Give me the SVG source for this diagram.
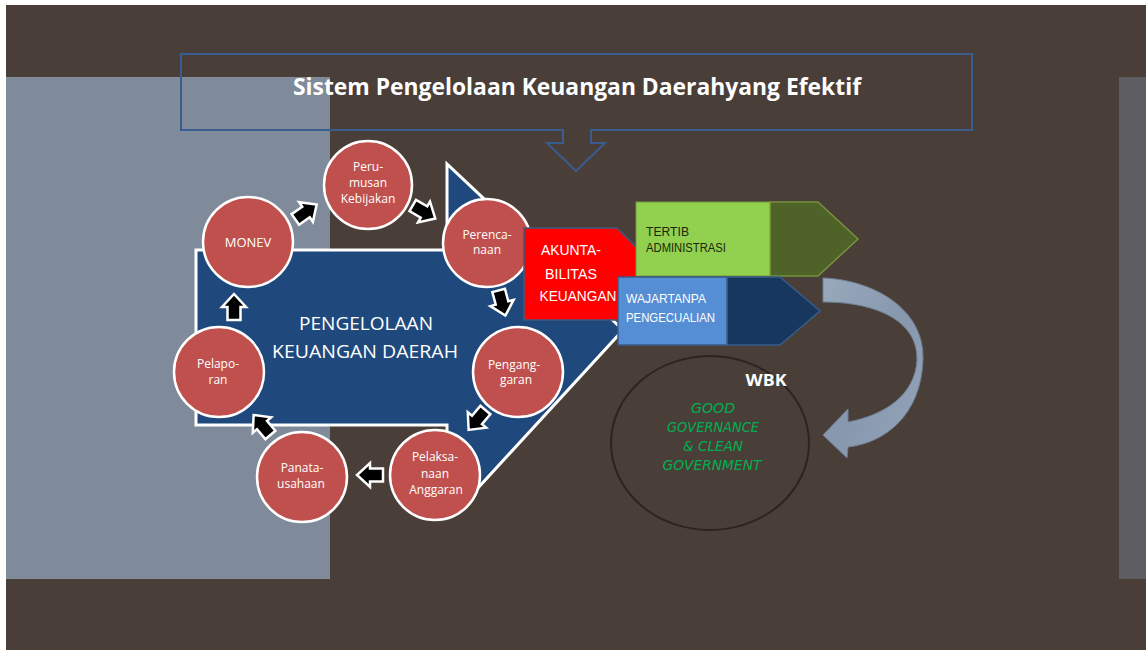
<svg xmlns="http://www.w3.org/2000/svg" width="1146" height="650" viewBox="0 0 1146 650">
  <style>
    .step circle { fill: #c0504d; stroke: #ffffff; stroke-width: 2.5; }
    .step text { fill: #ffffff; font-family: "Open Sans", "Liberation Sans", sans-serif; font-size: 12px; text-anchor: middle; }
    .flow use { fill: #000000; stroke: #ffffff; stroke-width: 2.5; stroke-linejoin: miter; }
    .big { fill: #ffffff; font-family: "Open Sans", "Liberation Sans", sans-serif; font-size: 19px; text-anchor: middle; }
    .tag { font-family: "Liberation Sans", "Open Sans", sans-serif; font-size: 13px; }
    .gg { fill: #00b050; font-family: "DejaVu Sans", "Liberation Sans", sans-serif; font-style: italic; font-size: 13.5px; text-anchor: middle; }
  </style>
  <defs>
    <!-- block arrow pointing right, centred on the origin -->
    <path id="blk" d="M-13,-6.5 H0 V-12 L13,0 L0,12 V6.5 H-13 Z"/>
    <linearGradient id="curveFill" x1="0" y1="0" x2="1" y2="1">
      <stop offset="0" stop-color="#9aaabd"/>
      <stop offset="0.5" stop-color="#8797ad"/>
      <stop offset="1" stop-color="#95a6bb"/>
    </linearGradient>
  </defs>

  <!-- backdrop -->
  <rect x="0" y="0" width="1146" height="650" fill="#ffffff"/>
  <rect x="6" y="5" width="1140" height="645" fill="#4a3e39"/>
  <rect x="6" y="77" width="324" height="502" fill="#7f8a9a"/>
  <rect x="1119" y="77" width="27" height="502" fill="#5e5e62"/>

  <!-- heading callout -->
  <g id="title">
    <path d="M181,54 H972 V130 H591 V143 H605 L576,171 L547,143 H563 V130 H181 Z" fill="none" stroke="#3a5d8f" stroke-width="2"/>
    <text x="577" y="95" fill="#ffffff" font-family="Open Sans, Liberation Sans, sans-serif" font-weight="bold" font-size="24" text-anchor="middle" textLength="568" lengthAdjust="spacingAndGlyphs">Sistem Pengelolaan Keuangan Daerahyang Efektif</text>
  </g>

  <!-- central pentagon arrow -->
  <g id="pengelolaan">
    <path d="M196,250 H447 V164 L623,330 L455,513 L447,500 V425 H196 Z" fill="#1f497d" stroke="#ffffff" stroke-width="3" stroke-linejoin="miter"/>
    <text class="big" x="366" y="330" textLength="134" lengthAdjust="spacingAndGlyphs">PENGELOLAAN</text>
    <text class="big" x="365" y="358" textLength="186" lengthAdjust="spacingAndGlyphs">KEUANGAN DAERAH</text>
  </g>

  <!-- cycle arrows between steps -->
  <g id="connectors" class="flow">
    <use href="#blk" transform="translate(306,212) rotate(-35)"/>
    <use href="#blk" transform="translate(424,212) rotate(30)"/>
    <use href="#blk" transform="translate(502,303) rotate(75)"/>
    <use href="#blk" transform="translate(477,420) rotate(130)"/>
    <use href="#blk" transform="translate(370,475) rotate(180)"/>
    <use href="#blk" transform="translate(262,425) rotate(230)"/>
    <use href="#blk" transform="translate(234,307) rotate(-90)"/>
  </g>

  <!-- cycle steps -->
  <g id="perumusan" class="step">
    <circle cx="368" cy="185" r="44"/>
    <text x="368" y="171">Peru-</text>
    <text x="368" y="187">musan</text>
    <text x="368" y="203">Kebijakan</text>
  </g>
  <g id="monev" class="step">
    <circle cx="248" cy="242" r="45"/>
    <text x="248" y="247" style="font-size:13px">MONEV</text>
  </g>
  <g id="perencanaan" class="step">
    <circle cx="487" cy="243" r="44"/>
    <text x="487" y="239">Perenca-</text>
    <text x="487" y="254">naan</text>
  </g>
  <g id="penganggaran" class="step">
    <circle cx="518" cy="372" r="45"/>
    <text x="514" y="369">Pengang-</text>
    <text x="516" y="384">garan</text>
  </g>
  <g id="pelaksanaan" class="step">
    <circle cx="435" cy="475" r="45"/>
    <text x="435" y="461">Pelaksa-</text>
    <text x="435" y="478">naan</text>
    <text x="436" y="494">Anggaran</text>
  </g>
  <g id="panatausahaan" class="step">
    <circle cx="302" cy="477" r="45"/>
    <text x="302" y="472">Panata-</text>
    <text x="301" y="488">usahaan</text>
  </g>
  <g id="pelaporan" class="step">
    <circle cx="219" cy="372" r="45"/>
    <text x="218" y="368">Pelapo-</text>
    <text x="218" y="384">ran</text>
  </g>

  <!-- outcome boxes -->
  <g id="akuntabilitas">
    <path d="M524,228 H617 L640,251 V312 Q640,320 632,320 H524 Z" fill="#ff0000" stroke="#3d5a80" stroke-width="1.5"/>
    <text class="tag" x="571" y="255" fill="#ffffff" text-anchor="middle" style="font-size:14px" textLength="60" lengthAdjust="spacingAndGlyphs">AKUNTA-</text>
    <text class="tag" x="571" y="279" fill="#ffffff" text-anchor="middle" style="font-size:14px" textLength="52" lengthAdjust="spacingAndGlyphs">BILITAS</text>
    <text class="tag" x="578" y="301" fill="#ffffff" text-anchor="middle" style="font-size:14px" textLength="77" lengthAdjust="spacingAndGlyphs">KEUANGAN</text>
  </g>
  <g id="tertib">
    <path d="M770,202 H818 L858,239 L818,276 H770 Z" fill="#4f6228" stroke="#77933c" stroke-width="1.5"/>
    <rect x="636" y="202" width="134" height="74" fill="#92d050" stroke="#77933c" stroke-width="1"/>
    <text class="tag" x="646" y="236" fill="#1a2a0a" style="font-size:12px" textLength="43" lengthAdjust="spacingAndGlyphs">TERTIB</text>
    <text class="tag" x="646" y="252" fill="#1a2a0a" style="font-size:12px" textLength="80" lengthAdjust="spacingAndGlyphs">ADMINISTRASI</text>
  </g>
  <g id="wtp">
    <path d="M727,277 H780 L820,311 L780,345 H727 Z" fill="#17375e" stroke="#385d8a" stroke-width="1.5"/>
    <rect x="618" y="277" width="109" height="68" fill="#558ed5" stroke="#385d8a" stroke-width="1.5"/>
    <text class="tag" x="626" y="303" fill="#ffffff" textLength="80" lengthAdjust="spacingAndGlyphs">WAJARTANPA</text>
    <text class="tag" x="626" y="322" fill="#ffffff" textLength="89" lengthAdjust="spacingAndGlyphs">PENGECUALIAN</text>
  </g>

  <!-- curved arrow down to the goal -->
  <g id="curve">
    <path d="M823,278 C875,280 925,310 923,360 C921,415 885,443 848,447 L847,458 L823,435 L848,409 L848,422 C885,415 915,395 917,360 C918,320 875,302 823,302 Z" fill="url(#curveFill)" stroke="#6f7f95" stroke-width="1"/>
  </g>

  <!-- goal -->
  <g id="goal">
    <ellipse cx="710" cy="443" rx="99" ry="87" fill="none" stroke="#2c2420" stroke-width="2"/>
    <text x="766" y="386" fill="#ffffff" font-family="Open Sans, Liberation Sans, sans-serif" font-weight="bold" font-size="16" text-anchor="middle" textLength="41" lengthAdjust="spacingAndGlyphs">WBK</text>
    <text class="gg" x="713" y="413" textLength="44" lengthAdjust="spacingAndGlyphs">GOOD</text>
    <text class="gg" x="713" y="432" textLength="92" lengthAdjust="spacingAndGlyphs">GOVERNANCE</text>
    <text class="gg" x="713" y="451" textLength="60" lengthAdjust="spacingAndGlyphs">&amp; CLEAN</text>
    <text class="gg" x="712" y="470" textLength="99" lengthAdjust="spacingAndGlyphs">GOVERNMENT</text>
  </g>
</svg>
